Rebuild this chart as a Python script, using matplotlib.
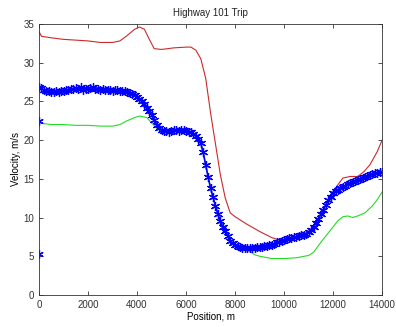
import numpy as np
import matplotlib
matplotlib.use("Agg")
import matplotlib.pyplot as plt

plt.rcParams['font.family'] = ['Liberation Sans', 'DejaVu Sans']

# measured speed (blue stars), every 100 m
pos_meas = np.arange(0, 14001, 100)
vel_meas = [26.8, 26.7, 26.4, 26.3, 26.3, 26.2, 26.2, 26.3, 26.2, 26.3,
            26.3, 26.4, 26.5, 26.6, 26.6, 26.7, 26.6, 26.8, 26.5, 26.6,
            26.6, 26.7, 26.8, 26.6, 26.6, 26.5, 26.6, 26.5, 26.4, 26.4,
            26.3, 26.4, 26.5, 26.3, 26.3, 26.3, 26.2, 26.1, 26.0, 25.8,
            25.6, 25.3, 25.0, 24.6, 24.2, 23.7, 23.2, 22.6, 22.0, 21.5,
            21.3, 21.2, 21.2, 21.1, 21.2, 21.3, 21.3, 21.2, 21.3, 21.3,
            21.2, 21.1, 21.0, 20.8, 20.5, 20.1, 19.6, 18.4, 16.8, 15.2,
            13.8, 12.6, 11.5, 10.4, 9.5, 8.8, 8.3, 7.6, 7.0, 6.7,
            6.5, 6.3, 6.2, 6.1, 6.1, 6.0, 6.1, 6.1, 6.1, 6.2,
            6.2, 6.2, 6.3, 6.3, 6.4, 6.5, 6.6, 6.8, 6.9, 7.0,
            7.1, 7.2, 7.3, 7.4, 7.5, 7.5, 7.6, 7.7, 7.8, 7.9,
            8.1, 8.4, 8.8, 9.3, 9.8, 10.4, 11.0, 11.6, 12.2, 12.7,
            13.1, 13.4, 13.6, 13.8, 14.0, 14.1, 14.3, 14.4, 14.6, 14.7,
            14.9, 15.0, 15.1, 15.2, 15.3, 15.5, 15.6, 15.7, 15.8, 15.9,
            15.9]

# stray first samples at x = 0
pos_extra = [0, 0]
vel_extra = [22.5, 5.3]

# upper bound (red)
pos_upper = [0, 100, 500, 1000, 1500, 2000, 2500, 3000, 3300, 3600, 3900, 4100,
             4300, 4500, 4700, 5000, 5500, 6000, 6200, 6400, 6600, 6800, 7000,
             7200, 7400, 7600, 7800, 8000, 8500, 9000, 9500, 9800, 10000, 10400,
             10800, 11200, 11600, 12000, 12400, 12700, 13000, 13250, 13500,
             13800, 14000]
vel_upper = [34.0, 33.4, 33.2, 33.0, 32.9, 32.8, 32.6, 32.6, 32.8, 33.5, 34.3, 34.6,
             34.3, 33.0, 31.8, 31.7, 31.9, 32.0, 32.0, 31.6, 30.5, 28.0, 23.5,
             19.5, 15.5, 12.5, 10.6, 10.1, 9.1, 8.2, 7.4, 7.1, 7.1, 7.3,
             7.7, 8.8, 11.0, 13.4, 15.1, 15.3, 15.3, 15.9, 16.8,
             18.5, 20.0]

# lower bound (green)
pos_lower = [0, 500, 1000, 1500, 2000, 2500, 3000, 3300, 3600, 3900, 4100, 4400,
             4600, 4800, 5000, 5200, 5600, 6000, 6200, 6400, 6600, 6800, 7000,
             7200, 7400, 7600, 7800, 8000, 8200, 8400, 8600, 8800, 9000, 9500,
             10000, 10500, 11000, 11200, 11500, 11800, 12000, 12200, 12400, 12600,
             12800, 13000, 13300, 13600, 13800, 14000]
vel_lower = [22.2, 22.0, 22.0, 21.9, 21.9, 21.8, 21.8, 22.0, 22.5, 22.9, 23.1, 22.9,
             22.2, 21.5, 21.2, 21.2, 21.3, 21.2, 21.0, 20.5, 19.6, 16.8, 13.8,
             11.5, 9.5, 8.3, 7.0, 6.5, 6.3, 6.1, 5.6, 5.2, 5.0, 4.7,
             4.7, 4.8, 5.1, 5.5, 6.8, 8.0, 8.8, 9.6, 10.1, 10.2,
             10.0, 10.2, 10.6, 11.5, 12.3, 13.3]

fig = plt.figure(figsize=(3.96, 3.27), dpi=100)
ax = fig.add_axes([0.0985, 0.098, 0.8665, 0.829])

ax.plot(pos_upper, vel_upper, color='#cc2a2a', linewidth=0.8)
ax.plot(pos_lower, vel_lower, color='#22dd22', linewidth=0.8)
ax.plot(pos_meas, vel_meas, color='#0000ff', linewidth=1.2,
        marker=(6, 2, 0), markersize=6.5, markeredgewidth=0.9)
ax.plot(pos_extra, vel_extra, linestyle='none', color='#0000ff',
        marker=(6, 2, 0), markersize=6, markeredgewidth=0.9)

ax.set_xlim(0, 14000)
ax.set_ylim(0, 35)
ax.set_xticks(np.arange(0, 14001, 2000))
ax.set_yticks(np.arange(0, 36, 5))
ax.tick_params(direction='in', top=True, right=True, labelsize=7,
               length=3, width=0.6, colors='#333333')
for s in ax.spines.values():
    s.set_linewidth(0.6)
    s.set_color('#333333')
ax.set_title('Highway 101 Trip', fontsize=7, color='#222222')
ax.set_xlabel('Position, m', fontsize=7, labelpad=1)
ax.set_ylabel('Velocity, m/s', fontsize=7, labelpad=2)

fig.savefig('out.png', dpi=100)
